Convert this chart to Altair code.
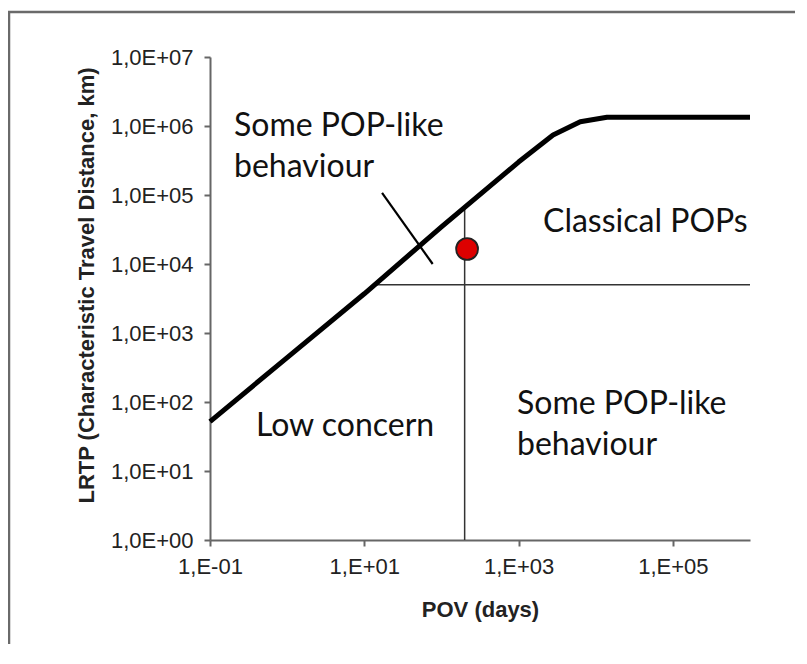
import altair as alt
import pandas as pd

# Boundary curve (POV in days, LRTP in km)
curve_pov = [0.1, 1, 10, 100, 1000, 2800, 6300, 14000, 1e6]
curve_lrtp = [52, 440, 3700, 34500, 3.0e5, 7.4e5, 1.15e6, 1.34e6, 1.34e6]

# Threshold lines
thr_pov = 200          # vertical threshold (days)
thr_pov_top = 67000    # where vertical line meets the curve
thr_lrtp = 5000        # horizontal threshold (km)
thr_lrtp_start = 14.5  # where horizontal line meets the curve
x_max = 1e6

# Pointer line from the upper label
ptr_x = [17, 77]
ptr_y = [1.07e5, 1.0e4]

# Chemical point
pt_pov = [215]
pt_lrtp = [16500]

# Region labels
lab_text = ["Some POP-like", "behaviour", "Classical POPs", "Low concern",
            "Some POP-like", "behaviour"]
lab_x = [0.205, 0.205, 2075, 0.394, 955, 955]
lab_y = [1.0e6, 2.55e5, 4.06e4, 45, 93.5, 23.8]

x_ticks = [0.1, 10, 1000, 100000]
y_ticks = [1, 10, 100, 1000, 1e4, 1e5, 1e6, 1e7]

xs = alt.Scale(type="log", domain=[0.1, 1e6], nice=False)
ys = alt.Scale(type="log", domain=[1, 1e7], nice=False)

curve_df = pd.DataFrame({"pov": curve_pov, "lrtp": curve_lrtp})
vline_df = pd.DataFrame({"x": [thr_pov], "y": [1], "y2": [thr_pov_top]})
hline_df = pd.DataFrame({"x": [thr_lrtp_start], "x2": [x_max], "y": [thr_lrtp]})
ptr_df = pd.DataFrame({"x": [ptr_x[0]], "x2": [ptr_x[1]], "y": [ptr_y[0]], "y2": [ptr_y[1]]})
pt_df = pd.DataFrame({"pov": pt_pov, "lrtp": pt_lrtp})
lab_df = pd.DataFrame({"t": lab_text, "x": lab_x, "y": lab_y})

exp_expr = "round(log(datum.value)/LN10)"
ylab = ("'1,0E' + (" + exp_expr + " < 0 ? '-' : '+') + (abs(" + exp_expr +
        ") < 10 ? '0' : '') + abs(" + exp_expr + ")")
xlab = ("'1,E' + (" + exp_expr + " < 0 ? '-' : '+') + (abs(" + exp_expr +
        ") < 10 ? '0' : '') + abs(" + exp_expr + ")")

one = pd.DataFrame({"a": [0]})
frame_left = alt.Chart(one).mark_rule(color="#6a6a6a", strokeWidth=2.5).encode(
    x=alt.value(-201), y=alt.value(-46), y2=alt.value(600))
frame_top = alt.Chart(one).mark_rule(color="#6a6a6a", strokeWidth=2.5).encode(
    x=alt.value(-202), x2=alt.value(600), y=alt.value(-45))

base_axes = alt.Chart(curve_df).mark_line(
    color="black", strokeWidth=5, interpolate="linear", strokeJoin="round"
).encode(
    x=alt.X("pov:Q", scale=xs,
            axis=alt.Axis(values=x_ticks, labelExpr=xlab, title="POV (days)",
                          titlePadding=22, labelPadding=10, labelFlush=False)),
    y=alt.Y("lrtp:Q", scale=ys,
            axis=alt.Axis(values=y_ticks, labelExpr=ylab,
                          title="LRTP (Characteristic  Travel Distance, km)",
                          titlePadding=12, labelPadding=11, titleY=228,
                          labelFlush=False)),
)

vline = alt.Chart(vline_df).mark_rule(color="#333", strokeWidth=1.5).encode(
    x=alt.X("x:Q", scale=xs), y=alt.Y("y:Q", scale=ys), y2="y2:Q")
hline = alt.Chart(hline_df).mark_rule(color="#333", strokeWidth=1.5).encode(
    x=alt.X("x:Q", scale=xs), x2="x2:Q", y=alt.Y("y:Q", scale=ys))
ptr = alt.Chart(ptr_df).mark_rule(color="black", strokeWidth=2.2).encode(
    x=alt.X("x:Q", scale=xs), x2="x2:Q", y=alt.Y("y:Q", scale=ys), y2="y2:Q")
pt = alt.Chart(pt_df).mark_point(
    shape="circle", filled=True, fill="#dd0000", stroke="#222", strokeWidth=1.8,
    size=480, opacity=1
).encode(x=alt.X("pov:Q", scale=xs), y=alt.Y("lrtp:Q", scale=ys))
labels = alt.Chart(lab_df).mark_text(
    align="left", baseline="middle", font="Lato", fontSize=32, color="#111"
).encode(x=alt.X("x:Q", scale=xs), y=alt.Y("y:Q", scale=ys), text="t:N")

chart = alt.layer(frame_left, frame_top, vline, hline, ptr, base_axes, pt, labels).properties(
    width=540, height=483,
    autosize=alt.AutoSizeParams(type="none"),
    padding={"left": 202, "top": 49, "right": 45, "bottom": 104},
).configure_view(stroke=None).configure_axis(
    grid=False, domainColor="#666", domainWidth=2, tickColor="#666", tickWidth=2,
    tickSize=6, labelFont="Liberation Sans", labelFontSize=22, labelColor="#222",
    titleFont="Liberation Sans", titleFontSize=22, titleFontWeight="bold",
    titleColor="#222"
)

chart.save("out.html", embed_options={"renderer": "svg", "actions": False})
